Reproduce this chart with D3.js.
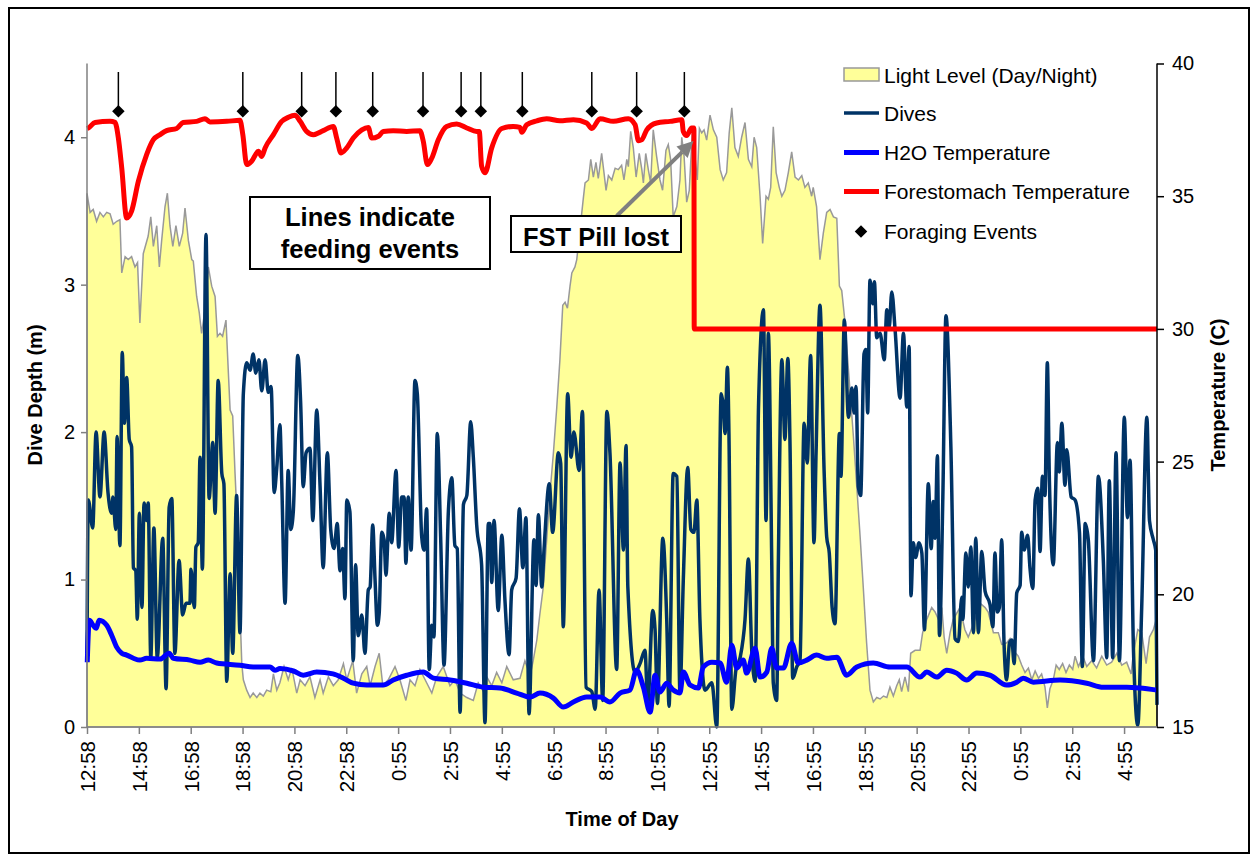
<!DOCTYPE html>
<html><head><meta charset="utf-8">
<script src="https://cdn.jsdelivr.net/npm/d3@7"></script>
<style>
html,body{margin:0;padding:0;background:#fff;}
svg{display:block;font-family:Arial,"Liberation Sans",sans-serif;}
</style></head>
<body><svg id="chart" width="1257" height="856"></svg>
<script>
// ---------------- DATA ----------------
// x = hours elapsed since 12:58 (first sample)
const timeLabels = ["12:58","14:58","16:58","18:58","20:58","22:58","0:55","2:55","4:55","6:55","8:55","10:55","12:55","14:55","16:55","18:55","20:55","22:55","0:55","2:55","4:55"];
const tickHours = [0,2,4,6,8,10,12,14,16,18,20,22,24,26,28,30,32,34,36,38,40];
const depthTicks = [0,1,2,3,4];
const tempTicks = [15,20,25,30,35,40];

// Dive depth (m)
const dives = [
[0,0.5],[0.05,1.54],[0.22,1.35],[0.35,2.0],[0.5,1.56],[0.66,2.0],[0.81,1.59],[0.95,1.45],[1.0,1.56],[1.11,1.34],[1.16,1.97],[1.27,1.23],[1.36,2.54],[1.44,2.06],[1.53,2.37],[1.63,1.95],[1.72,1.9],[1.79,1.08],[1.88,1.06],[1.94,0.73],[2.02,1.45],[2.12,0.81],[2.2,1.52],[2.3,1.4],[2.36,1.52],[2.46,0.47],[2.58,1.35],[2.71,0.47],[2.92,1.28],[3.05,0.26],[3.17,1.49],[3.27,1.55],[3.39,0.5],[3.55,1.13],[3.69,0.76],[3.82,0.84],[3.97,0.84],[4.01,1.07],[4.14,0.81],[4.2,1.22],[4.29,1.25],[4.36,1.83],[4.45,1.07],[4.59,3.34],[4.71,1.55],[4.85,1.93],[4.94,1.45],[5.06,2.35],[5.2,1.72],[5.28,1.65],[5.39,0.31],[5.52,1.04],[5.62,0.5],[5.77,1.57],[5.9,0.64],[6.03,2.26],[6.16,2.47],[6.29,2.42],[6.41,2.53],[6.51,2.4],[6.63,2.49],[6.74,2.28],[6.87,2.49],[6.99,2.27],[7.1,2.31],[7.22,1.59],[7.32,1.76],[7.44,2.05],[7.51,1.67],[7.64,0.84],[7.76,1.74],[7.86,1.34],[7.96,1.47],[8.13,2.52],[8.24,2.2],[8.34,1.63],[8.45,1.86],[8.6,1.89],[8.71,1.4],[8.86,2.15],[8.99,1.63],[9.11,1.08],[9.27,1.86],[9.4,1.34],[9.53,1.21],[9.65,1.38],[9.76,1.06],[9.86,1.21],[9.95,0.87],[10.02,1.54],[10.14,1.46],[10.27,0.45],[10.36,1.1],[10.46,0.62],[10.6,0.76],[10.72,0.5],[10.85,0.93],[10.92,0.95],[11.02,1.37],[11.11,1.0],[11.2,0.69],[11.27,0.77],[11.37,1.32],[11.46,1.27],[11.53,1.03],[11.66,1.45],[11.75,1.25],[11.92,1.74],[12.02,1.22],[12.14,1.56],[12.23,1.56],[12.3,1.11],[12.39,1.56],[12.5,1.2],[12.65,2.35],[12.74,2.26],[12.91,1.29],[13.0,1.2],[13.1,1.48],[13.2,0.39],[13.3,0.69],[13.38,0.61],[13.51,1.99],[13.64,1.29],[13.77,0.42],[13.94,1.47],[14.07,1.69],[14.19,1.23],[14.28,1.21],[14.39,0.1],[14.52,1.51],[14.65,1.57],[14.8,2.07],[14.9,1.83],[15.03,1.37],[15.22,1.1],[15.35,0.03],[15.48,1.38],[15.54,1.38],[15.61,0.98],[15.7,1.4],[15.86,0.79],[16.0,1.3],[16.12,0.86],[16.28,0.49],[16.38,0.93],[16.55,1.01],[16.68,1.48],[16.81,1.08],[16.93,1.42],[17.05,0.09],[17.24,1.27],[17.32,0.96],[17.41,1.44],[17.54,0.95],[17.63,1.21],[17.83,1.65],[17.96,1.32],[18.18,1.86],[18.27,1.79],[18.37,0.68],[18.54,2.26],[18.67,1.83],[18.78,2.0],[18.98,1.74],[19.11,2.14],[19.25,0.27],[19.47,0.24],[19.6,0.12],[19.75,0.93],[19.89,0.18],[20.05,2.14],[20.17,1.86],[20.43,0.39],[20.56,1.79],[20.69,1.2],[20.79,1.91],[20.86,0.95],[21.14,0.37],[21.33,0.43],[21.52,0.52],[21.63,0.16],[21.82,0.79],[21.91,0.66],[22.0,0.16],[22.21,1.28],[22.36,0.73],[22.45,0.14],[22.61,1.72],[22.75,1.7],[22.87,0.23],[23.0,1.0],[23.17,1.76],[23.29,1.34],[23.41,1.32],[23.52,1.54],[23.64,0.73],[23.84,0.25],[24.1,0.3],[24.29,0.0],[24.46,2.26],[24.54,2.18],[24.61,1.99],[24.7,2.44],[24.76,1.99],[24.87,0.12],[25.03,0.39],[25.19,0.47],[25.38,0.73],[25.51,1.14],[25.64,0.52],[25.77,0.31],[25.9,2.17],[26.09,2.83],[26.19,1.4],[26.28,2.67],[26.41,1.13],[26.47,0.3],[26.6,0.18],[26.67,1.18],[26.8,2.49],[26.92,1.95],[27.03,2.5],[27.12,1.86],[27.22,0.33],[27.38,0.41],[27.5,0.45],[27.66,2.06],[27.78,1.79],[27.91,2.52],[28.04,1.25],[28.12,1.86],[28.27,2.86],[28.43,1.74],[28.53,1.29],[28.63,1.18],[28.74,0.81],[28.85,0.7],[29.02,1.99],[29.08,1.7],[29.21,2.76],[29.37,2.1],[29.5,2.3],[29.59,2.13],[29.66,2.31],[29.75,1.63],[29.84,1.57],[29.97,2.53],[30.04,2.56],[30.11,2.13],[30.2,3.03],[30.31,2.87],[30.37,3.02],[30.46,2.64],[30.59,2.67],[30.75,2.49],[30.85,2.83],[30.94,2.71],[31.04,2.95],[31.17,2.69],[31.36,2.23],[31.49,2.67],[31.62,2.17],[31.71,2.58],[31.78,0.89],[31.87,1.25],[31.96,1.15],[32.09,1.25],[32.2,1.18],[32.3,0.66],[32.45,1.65],[32.56,1.21],[32.64,1.53],[32.71,1.28],[32.8,1.84],[32.88,0.62],[33.01,1.56],[33.13,2.79],[33.32,1.9],[33.48,0.6],[33.61,0.58],[33.74,0.88],[33.78,0.73],[33.9,1.18],[33.99,0.95],[34.09,1.22],[34.19,0.64],[34.28,1.28],[34.38,0.64],[34.51,1.19],[34.64,0.92],[34.83,0.83],[34.94,0.68],[35.02,1.18],[35.11,0.78],[35.19,0.81],[35.28,1.27],[35.37,0.57],[35.47,0.32],[35.58,0.57],[35.67,0.59],[35.76,0.43],[35.86,0.91],[35.99,0.96],[36.05,1.32],[36.15,1.2],[36.28,1.3],[36.37,1.08],[36.48,0.94],[36.57,1.54],[36.67,1.62],[36.76,1.19],[36.85,1.7],[36.95,1.57],[37.04,2.47],[37.12,1.67],[37.27,1.1],[37.43,1.93],[37.5,1.73],[37.6,2.06],[37.72,1.64],[37.79,1.88],[37.96,1.56],[38.11,1.54],[38.28,1.32],[38.39,0.41],[38.5,1.38],[38.62,1.27],[38.82,0.45],[39.01,1.7],[39.2,1.13],[39.33,0.47],[39.43,1.67],[39.56,0.47],[39.69,1.86],[39.82,0.45],[40.01,2.1],[40.13,1.42],[40.23,1.81],[40.36,0.54],[40.53,0.01],[40.68,0.81],[40.88,2.1],[40.98,1.4],[41.13,1.27],[41.22,1.2],[41.27,0.15]
];

// Water temperature (C)
const h2oTemp = [
[0.01,17.44],[0.09,19.02],[0.24,18.83],[0.35,18.72],[0.47,19.02],[0.76,18.83],[0.95,18.46],[1.15,18.0],[1.34,17.78],[1.53,17.71],[1.79,17.59],[2.04,17.52],[2.3,17.59],[2.82,17.56],[3.17,17.78],[3.33,17.59],[3.97,17.52],[4.36,17.44],[4.68,17.52],[5.0,17.41],[5.9,17.33],[6.41,17.26],[7.06,17.26],[7.25,17.14],[7.44,17.2],[7.96,17.11],[8.34,16.95],[8.86,17.07],[9.49,17.0],[9.89,16.84],[10.27,16.65],[10.79,16.58],[11.43,16.58],[11.81,16.77],[12.33,16.95],[12.97,17.07],[13.36,16.84],[14.0,16.77],[14.65,16.65],[15.29,16.5],[15.93,16.47],[16.57,16.28],[17.09,16.13],[17.47,16.28],[17.99,16.09],[18.37,15.75],[18.76,15.94],[19.27,16.13],[19.79,16.13],[20.17,15.94],[20.56,16.28],[20.94,16.39],[21.2,17.14],[21.46,16.5],[21.72,15.56],[21.91,16.95],[22.1,16.32],[22.36,16.65],[22.61,16.39],[22.87,16.28],[23.0,17.07],[23.26,16.58],[23.58,16.47],[23.77,17.26],[24.1,17.44],[24.42,17.41],[24.67,16.69],[24.87,18.08],[25.06,17.22],[25.31,17.52],[25.44,17.03],[25.77,17.97],[25.96,16.88],[26.22,17.07],[26.41,17.97],[26.6,17.22],[26.86,17.22],[27.18,18.16],[27.43,17.41],[27.76,17.52],[28.14,17.71],[28.53,17.59],[28.92,17.63],[29.3,16.95],[29.69,17.26],[30.33,17.41],[30.97,17.26],[31.62,17.26],[32.13,16.88],[32.39,17.07],[32.77,16.88],[33.16,17.14],[33.54,17.03],[33.93,16.77],[34.32,17.03],[34.83,16.95],[35.47,16.58],[35.86,16.69],[36.11,16.84],[36.5,16.69],[37.53,16.77],[38.56,16.65],[39.2,16.5],[40.1,16.5],[40.61,16.47],[41.27,16.39]
];

// Forestomach temperature (C)
const fstTemp = [
[0,37.55],[0.05,37.57],[0.31,37.78],[0.89,37.82],[1.08,37.78],[1.21,37.19],[1.34,36.06],[1.53,34.18],[1.72,34.44],[1.98,35.56],[2.3,36.57],[2.56,37.13],[2.82,37.32],[3.07,37.47],[3.46,37.55],[3.71,37.78],[4.23,37.82],[4.55,37.92],[4.74,37.8],[5.39,37.82],[5.9,37.86],[6.01,37.32],[6.16,36.19],[6.35,36.32],[6.61,36.69],[6.74,36.5],[6.87,36.82],[7.19,37.32],[7.51,37.82],[7.76,37.97],[8.02,38.05],[8.22,37.82],[8.47,37.44],[8.73,37.32],[9.11,37.47],[9.5,37.63],[9.63,37.19],[9.8,36.63],[10.02,36.82],[10.27,37.19],[10.6,37.5],[10.85,37.59],[10.98,37.19],[11.24,37.26],[11.43,37.44],[11.81,37.47],[12.33,37.44],[12.84,37.47],[12.97,37.07],[13.13,36.19],[13.3,36.44],[13.55,37.13],[13.87,37.63],[14.26,37.72],[14.65,37.57],[15.03,37.44],[15.13,37.44],[15.22,36.13],[15.35,35.88],[15.61,36.82],[16.0,37.55],[16.44,37.63],[16.7,37.59],[16.77,37.41],[16.96,37.69],[17.35,37.84],[17.73,37.92],[18.24,37.84],[18.76,37.88],[19.27,37.76],[19.47,37.55],[19.79,37.92],[20.3,37.82],[20.88,37.92],[21.14,37.69],[21.27,37.09],[21.4,37.13],[21.59,37.5],[21.97,37.76],[22.49,37.82],[22.94,37.88],[23.0,37.44],[23.13,37.29],[23.32,37.57],[23.41,37.57],[23.42,30],[41.27,30]
];

// Light level (relative, plotted against depth axis)
const lightLevel = [
[0,3.62],[0.12,3.49],[0.24,3.51],[0.37,3.43],[0.5,3.49],[0.63,3.46],[0.76,3.49],[0.89,3.48],[1.01,3.41],[1.15,3.43],[1.27,3.44],[1.34,3.08],[1.47,3.19],[1.59,3.17],[1.72,3.19],[1.85,3.12],[1.95,3.15],[2.04,2.74],[2.17,3.21],[2.36,3.33],[2.46,3.46],[2.56,3.26],[2.69,3.4],[2.79,3.12],[2.88,3.3],[3.01,3.53],[3.1,3.62],[3.2,3.4],[3.31,3.26],[3.43,3.4],[3.56,3.26],[3.69,3.35],[3.78,3.52],[3.91,3.3],[4.04,3.17],[4.1,3.16],[4.23,2.92],[4.33,2.81],[4.42,2.67],[4.55,2.83],[4.68,3.12],[4.81,2.99],[4.94,2.92],[5.03,2.65],[5.13,2.67],[5.23,2.65],[5.36,2.76],[5.43,2.49],[5.52,2.15],[5.62,2.11],[5.71,1.72],[5.77,1.49],[5.87,0.95],[5.97,0.43],[6.03,0.32],[6.16,0.25],[6.29,0.2],[6.41,0.23],[6.55,0.2],[6.67,0.23],[6.8,0.21],[6.93,0.25],[7.09,0.24],[7.19,0.36],[7.32,0.25],[7.44,0.3],[7.6,0.41],[7.76,0.32],[7.9,0.4],[8.09,0.23],[8.22,0.32],[8.41,0.28],[8.6,0.34],[8.79,0.2],[8.99,0.32],[9.11,0.23],[9.31,0.34],[9.5,0.28],[9.69,0.32],[9.89,0.43],[10.02,0.32],[10.25,0.45],[10.4,0.23],[10.6,0.36],[10.79,0.41],[10.92,0.28],[11.11,0.41],[11.27,0.5],[11.41,0.28],[11.62,0.32],[11.88,0.41],[12.07,0.32],[12.3,0.18],[12.46,0.32],[12.65,0.28],[12.84,0.39],[13.1,0.3],[13.3,0.23],[13.49,0.34],[13.74,0.41],[14.0,0.28],[14.19,0.32],[14.39,0.23],[14.65,0.2],[14.9,0.18],[15.09,0.3],[15.26,0.25],[15.42,0.34],[15.61,0.28],[15.8,0.37],[16.0,0.3],[16.19,0.41],[16.44,0.32],[16.7,0.33],[16.89,0.45],[17.09,0.35],[17.21,0.45],[17.35,0.59],[17.47,0.77],[17.6,0.95],[17.73,1.27],[17.86,1.59],[17.99,1.86],[18.12,2.17],[18.24,2.49],[18.35,2.86],[18.44,2.88],[18.53,2.84],[18.63,2.99],[18.7,3.08],[18.82,3.12],[18.89,3.17],[19.14,3.58],[19.21,3.69],[19.34,3.71],[19.43,3.85],[19.53,3.73],[19.63,3.83],[19.72,3.72],[19.85,3.89],[19.94,3.76],[20.02,3.64],[20.11,3.74],[20.24,3.71],[20.37,3.79],[20.49,3.78],[20.62,3.81],[20.71,3.71],[20.82,3.85],[20.88,3.8],[20.97,4.04],[21.07,3.93],[21.18,3.73],[21.3,3.89],[21.4,3.78],[21.46,3.69],[21.55,3.89],[21.65,3.78],[21.74,3.69],[21.84,4.05],[21.97,3.87],[22.1,3.71],[22.2,3.64],[22.33,3.91],[22.42,3.95],[22.51,3.85],[22.61,3.46],[22.75,3.53],[22.87,3.71],[22.94,4.0],[23.03,3.87],[23.13,3.56],[23.23,3.64],[23.35,4.05],[23.45,3.87],[23.54,3.71],[23.62,4.06],[23.71,4.03],[23.8,4.05],[23.9,3.98],[24.03,4.15],[24.16,4.05],[24.29,4.0],[24.42,3.78],[24.54,3.71],[24.67,3.76],[24.77,4.03],[24.87,4.2],[24.99,3.93],[25.12,3.87],[25.25,4.0],[25.38,4.1],[25.51,3.85],[25.64,3.8],[25.73,4.0],[25.83,3.93],[25.96,3.6],[26.06,3.28],[26.19,3.6],[26.28,3.58],[26.37,3.66],[26.47,4.07],[26.58,3.76],[26.7,3.66],[26.8,3.6],[26.92,3.64],[27.05,3.76],[27.18,3.9],[27.31,3.73],[27.44,3.71],[27.57,3.74],[27.69,3.66],[27.82,3.69],[27.95,3.6],[28.01,3.66],[28.14,3.53],[28.27,3.17],[28.4,3.35],[28.53,3.49],[28.66,3.51],[28.79,3.46],[28.92,3.45],[29.02,2.99],[29.11,2.96],[29.24,2.74],[29.37,2.42],[29.56,1.97],[29.69,1.63],[29.82,1.29],[29.94,0.95],[30.07,0.57],[30.2,0.25],[30.33,0.17],[30.46,0.2],[30.59,0.19],[30.72,0.21],[30.85,0.2],[30.97,0.27],[31.1,0.21],[31.23,0.28],[31.33,0.32],[31.42,0.24],[31.55,0.34],[31.68,0.24],[31.77,0.5],[31.94,0.52],[32.13,0.52],[32.23,0.64],[32.39,0.73],[32.58,0.81],[32.71,0.78],[32.84,0.73],[32.97,0.81],[33.06,0.61],[33.16,0.5],[33.29,0.64],[33.41,0.73],[33.67,0.81],[33.86,0.66],[33.99,0.61],[34.06,0.64],[34.25,0.73],[34.44,0.84],[34.64,0.81],[34.76,0.78],[34.96,0.64],[35.15,0.64],[35.28,0.56],[35.47,0.57],[35.6,0.6],[35.73,0.52],[35.92,0.48],[36.05,0.42],[36.18,0.37],[36.31,0.4],[36.44,0.32],[36.57,0.38],[36.7,0.33],[36.82,0.36],[36.95,0.27],[37.04,0.13],[37.14,0.26],[37.27,0.32],[37.38,0.42],[37.5,0.39],[37.63,0.43],[37.76,0.37],[37.89,0.42],[38.02,0.39],[38.11,0.48],[38.24,0.41],[38.41,0.48],[38.56,0.41],[38.75,0.45],[38.94,0.4],[39.14,0.48],[39.33,0.42],[39.52,0.44],[39.72,0.5],[39.91,0.42],[40.1,0.44],[40.27,0.36],[40.36,0.5],[40.53,0.66],[40.68,0.64],[40.85,0.43],[40.98,0.61],[41.13,0.66],[41.27,0.75]
];

// Foraging events (hours) and marker temperature level
const foragingHours = [1.21,6.01,8.28,9.6,11.02,12.96,14.43,15.19,16.79,19.47,21.2,23.04];
const foragingLevel = 38.2;
const foragingArrowTop = 39.68;

// ---------------- CHART ----------------
const svg = d3.select("#chart");
const L = 87, R = 1157, T = 63.5, B = 727;
const x = d3.scaleLinear().domain([0, 41.27]).range([L, R]);
const yL = d3.scaleLinear().domain([0, 4.5]).range([B, T]);
const yR = d3.scaleLinear().domain([15, 40]).range([B, T]);
const FONT = "Arial, 'Liberation Sans', sans-serif";

// outer frame
svg.append("rect").attr("x",9).attr("y",8).attr("width",1240).attr("height",845)
  .attr("fill","#fff").attr("stroke","#000").attr("stroke-width",2);

// light level area
const area = d3.area().x(d=>x(d[0])).y0(yL(0)).y1(d=>yL(d[1]));
const lightPts = [[0,0], ...lightLevel, [41.27,0]];
svg.append("path").datum(lightPts).attr("d", area)
  .attr("fill","#FFFF99").attr("stroke","#999999").attr("stroke-width",1.5);

// dives
svg.append("path").datum(dives)
  .attr("d", d3.line().x(d=>x(d[0])).y(d=>yL(d[1])).curve(d3.curveMonotoneX))
  .attr("fill","none").attr("stroke","#003366").attr("stroke-width",3.5).attr("stroke-linejoin","round");

// H2O temp
svg.append("path").datum(h2oTemp)
  .attr("d", d3.line().x(d=>x(d[0])).y(d=>yR(d[1])).curve(d3.curveMonotoneX))
  .attr("fill","none").attr("stroke","#0000FF").attr("stroke-width",5).attr("stroke-linejoin","round");

// Forestomach temp
svg.append("path").datum(fstTemp)
  .attr("d", d3.line().x(d=>x(d[0])).y(d=>yR(d[1])).curve(d3.curveMonotoneX))
  .attr("fill","none").attr("stroke","#FF0000").attr("stroke-width",5).attr("stroke-linejoin","round");

// Foraging events
const fg = svg.append("g");
foragingHours.forEach(h=>{
  fg.append("line").attr("x1",x(h)).attr("x2",x(h)).attr("y1",yR(foragingArrowTop)).attr("y2",yR(foragingLevel))
    .attr("stroke","#000").attr("stroke-width",1.5);
  fg.append("path").attr("d", d3.symbol().type(d3.symbolDiamond2).size(100)())
    .attr("transform",`translate(${x(h)},${yR(foragingLevel)})`)
    .attr("fill","#000");
});

// Axes
const axL = svg.append("g").attr("transform",`translate(${L},0)`)
  .call(d3.axisLeft(yL).tickValues(depthTicks).tickSize(6).tickPadding(6).tickFormat(d3.format("d")));
axL.select(".domain").attr("stroke","#808080").attr("stroke-width",1.5).attr("d",`M-0,${B}V${T}`);
axL.selectAll(".tick line").attr("stroke","#808080").attr("stroke-width",1.5);
axL.selectAll("text").attr("font-size",20).attr("fill","#000").style("font-family",FONT);

const axR = svg.append("g").attr("transform",`translate(${R},0)`)
  .call(d3.axisRight(yR).tickValues(tempTicks).tickSize(7).tickPadding(8));
axR.select(".domain").attr("stroke","#000").attr("stroke-width",1.5).attr("d",`M0,${B}V${T}`);
axR.selectAll(".tick line").attr("stroke","#000").attr("stroke-width",1.5);
axR.selectAll("text").attr("font-size",20).attr("fill","#000").style("font-family",FONT);

const axB = svg.append("g").attr("transform",`translate(0,${B})`)
  .call(d3.axisBottom(x).tickValues(tickHours).tickSize(7).tickFormat((d,i)=>timeLabels[i]));
axB.select(".domain").attr("stroke","#808080").attr("stroke-width",1.5).attr("d",`M${L},0H${R}`);
axB.selectAll(".tick line").attr("stroke","#808080").attr("stroke-width",1.5);
axB.selectAll("text").attr("font-size",20.5).attr("fill","#000")
  .style("font-family",FONT)
  .attr("text-anchor","end").attr("transform","rotate(-90)")
  .attr("x",-14).attr("y",0).attr("dy","0.36em");

// Axis titles
svg.append("text").attr("transform","translate(42,395) rotate(-90)").attr("text-anchor","middle")
  .attr("font-size",20).attr("font-weight","bold").text("Dive Depth (m)");
svg.append("text").attr("transform","translate(1225,395) rotate(-90)").attr("text-anchor","middle")
  .attr("font-size",20).attr("font-weight","bold").text("Temperature (C)");
svg.append("text").attr("x",622).attr("y",826).attr("text-anchor","middle")
  .attr("font-size",20).attr("font-weight","bold").text("Time of Day");

// Legend
const lg = svg.append("g").attr("font-size",21);
const legendItems = [
  {label:"Light Level (Day/Night)", type:"area"},
  {label:"Dives", type:"line", color:"#003366", w:3.5},
  {label:"H2O Temperature", type:"line", color:"#0000FF", w:5},
  {label:"Forestomach Temperature", type:"line", color:"#FF0000", w:5},
  {label:"Foraging Events", type:"marker"}
];
const lgY = [75, 113, 152.5, 191.5, 231.5];
legendItems.forEach((it,i)=>{
  const cy = lgY[i];
  if(it.type==="area"){
    lg.append("rect").attr("x",844).attr("y",cy-7).attr("width",35).attr("height",13)
      .attr("fill","#FFFF99").attr("stroke","#999999").attr("stroke-width",1.5);
  } else if(it.type==="line"){
    lg.append("line").attr("x1",844).attr("x2",879).attr("y1",cy).attr("y2",cy)
      .attr("stroke",it.color).attr("stroke-width",it.w);
  } else {
    lg.append("path").attr("d", d3.symbol().type(d3.symbolDiamond2).size(100)())
      .attr("transform",`translate(861,${cy})`).attr("fill","#000");
  }
  lg.append("text").attr("x",884).attr("y",cy).attr("dy","0.36em").text(it.label);
});

// Annotation: Lines indicate feeding events
const a1 = svg.append("g");
a1.append("rect").attr("x",250).attr("y",197).attr("width",240).attr("height",72)
  .attr("fill","#fff").attr("stroke","#000").attr("stroke-width",2);
a1.append("text").attr("x",370).attr("y",226).attr("text-anchor","middle").attr("font-size",25.5)
  .attr("font-weight","bold").text("Lines indicate");
a1.append("text").attr("x",370).attr("y",258).attr("text-anchor","middle").attr("font-size",25.5)
  .attr("font-weight","bold").text("feeding events");

// Annotation: FST Pill lost with arrow
const a2 = svg.append("g");
const tail = [616.7, 216], tip = [693.5, 141];
const ang = Math.atan2(tip[1]-tail[1], tip[0]-tail[0]);
const hl = 16, hw = 8;
const base = [tip[0]-hl*Math.cos(ang), tip[1]-hl*Math.sin(ang)];
a2.append("line").attr("x1",tail[0]).attr("y1",tail[1]).attr("x2",base[0]).attr("y2",base[1])
  .attr("stroke","#808080").attr("stroke-width",4);
a2.append("path").attr("d",`M${tip[0]},${tip[1]}L${base[0]+hw*Math.sin(ang)},${base[1]-hw*Math.cos(ang)}L${base[0]-hw*Math.sin(ang)},${base[1]+hw*Math.cos(ang)}Z`)
  .attr("fill","#808080");
a2.append("rect").attr("x",511).attr("y",216).attr("width",170).attr("height",36)
  .attr("fill","#fff").attr("stroke","#000").attr("stroke-width",2);
a2.append("text").attr("x",596).attr("y",246).attr("text-anchor","middle").attr("font-size",25.5)
  .attr("font-weight","bold").text("FST Pill lost");
</script>
</body></html>
